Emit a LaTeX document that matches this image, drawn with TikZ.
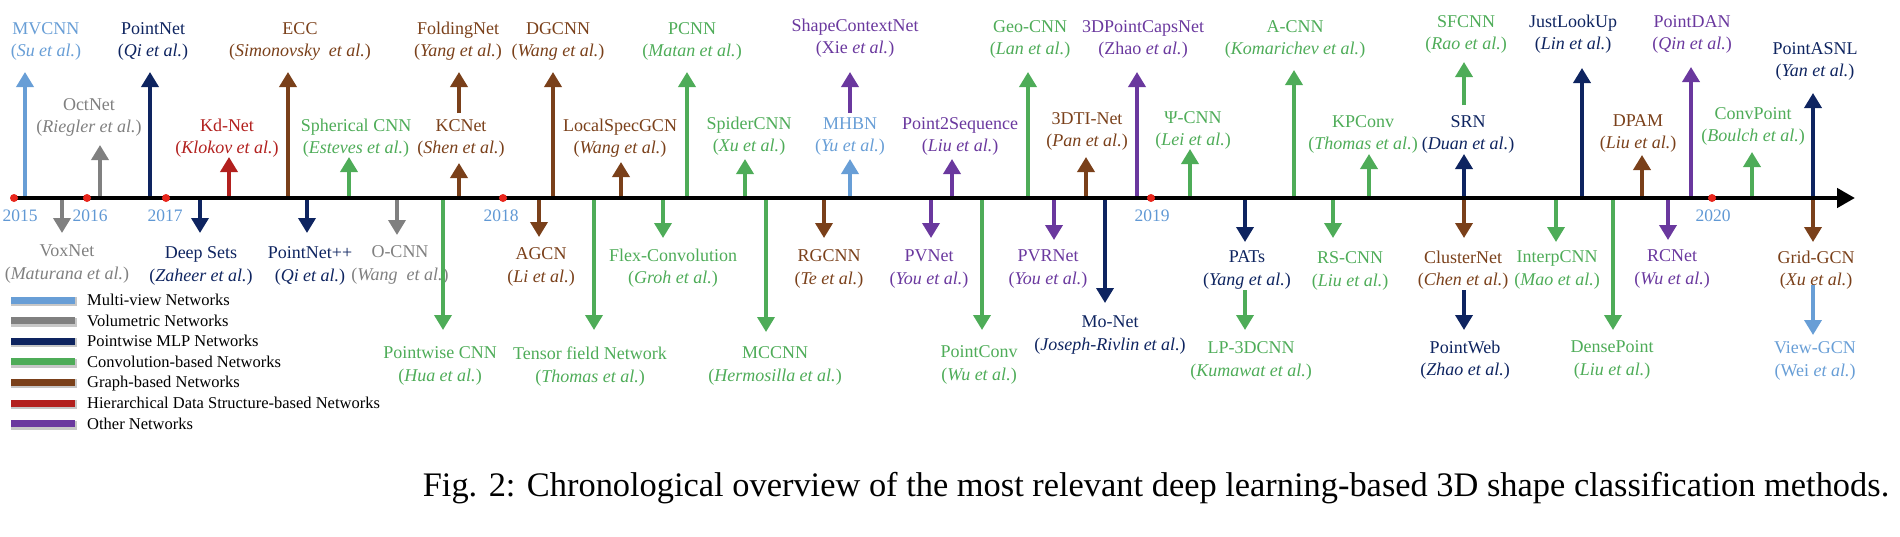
\documentclass[tikz,border=0pt]{standalone}
\usepackage{fontspec}
\setmainfont{Liberation Serif}
\usetikzlibrary{arrows.meta}
\definecolor{mv}{RGB}{104,158,214}
\definecolor{vol}{RGB}{128,128,128}
\definecolor{pw}{RGB}{14,36,96}
\definecolor{cv}{RGB}{78,172,88}
\definecolor{gr}{RGB}{122,64,26}
\definecolor{hier}{RGB}{178,32,30}
\definecolor{oth}{RGB}{106,56,158}
\definecolor{yr}{RGB}{96,152,212}
\definecolor{reddot}{RGB}{232,38,28}
\newcommand\upitem[9]{%
  \coordinate (#1-s) at (#3,#4);
  \coordinate (#1-t) at (#3,#5);
  \draw[arr,#2] (#1-s) -- (#1-t);
  \node[lbl,text=#2,anchor=south] (#1) at (#6,#7+3.6) {#8\\(\textit{#9})};
}
\newcommand\dnitem[9]{%
  \coordinate (#1-s) at (#3,#4);
  \coordinate (#1-t) at (#3,#5);
  \draw[arr,#2] (#1-s) -- (#1-t);
  \node[lbl,text=#2,anchor=north] (#1) at (#6,#7-12.2) {#8\\(\textit{#9})};
}
\begin{document}
\begin{tikzpicture}[x=1pt,y=-1pt,
  arr/.style={line width=3.6pt,-{Triangle[length=15pt,width=17pt]}},
  axisline/.style={line width=4.5pt,black,-{Triangle[length=18pt,width=19pt]}},
  lbl/.style={inner sep=0pt,align=center,font=\fontsize{18}{22.5}\selectfont},
  yrlbl/.style={inner sep=0pt,text=yr,font=\fontsize{17.5}{20}\selectfont},
  dotc/.style={circle,fill=reddot,inner sep=0pt,minimum size=8pt},
  legbar/.style={inner sep=0pt,minimum width=64pt,minimum height=7pt},
  legshadow/.style={inner sep=0pt,minimum width=66pt,minimum height=9pt,fill=black!22},
  legtxt/.style={inner sep=0pt,font=\fontsize{16.5}{20}\selectfont},
  captxt/.style={inner sep=0pt,font=\fontsize{34.4}{40}\selectfont}]
\useasboundingbox (0,0) rectangle (1900,536);

% ---- upward arrows
\upitem{mvcnn}{mv}{25}{198}{72}{46}{57}{MVCNN}{Su et al.}
\upitem{octnet}{vol}{100}{198}{145}{89}{133}{OctNet}{Riegler et al.}
\upitem{pointnet}{pw}{150}{198}{72}{153}{57}{PointNet}{Qi et al.}
\upitem{kdnet}{hier}{229}{198}{157}{227}{154}{Kd-Net}{Klokov et al.}
\upitem{ecc}{gr}{288}{198}{72}{300}{57}{ECC}{Simonovsky\ \ et al.}
\upitem{sphcnn}{cv}{349}{198}{157}{356}{154}{Spherical CNN}{Esteves et al.}
\upitem{kcnet}{gr}{459}{198}{163}{461}{154}{KCNet}{Shen et al.}
\upitem{folding}{gr}{459}{113}{72}{458}{57}{FoldingNet}{Yang et al.}
\upitem{dgcnn}{gr}{553}{198}{72}{558}{57}{DGCNN}{Wang et al.}
\upitem{localspec}{gr}{621}{198}{162}{620}{154}{LocalSpecGCN}{Wang et al.}
\upitem{pcnn}{cv}{687}{198}{72}{692}{57}{PCNN}{Matan et al.}
\upitem{spider}{cv}{745}{198}{159}{749}{152}{SpiderCNN}{Xu et al.}
\upitem{mhbn}{mv}{850}{198}{159}{850}{152}{MHBN}{Yu et al.}
\upitem{shapectx}{oth}{850}{113}{72}{855}{54}{ShapeContextNet}{\upshape Xie \itshape et al.}
\upitem{ptseq}{oth}{952}{198}{159}{960}{152}{Point2Sequence}{Liu et al.}
\upitem{geocnn}{cv}{1028}{198}{72}{1030}{55}{Geo-CNN}{Lan et al.}
\upitem{dti}{gr}{1086}{198}{157}{1087}{147}{3DTI-Net}{Pan et al.}
\upitem{caps}{oth}{1137}{198}{72}{1143}{55}{3DPointCapsNet}{\upshape Zhao \itshape et al.}
\upitem{psicnn}{cv}{1190}{198}{149}{1193}{146}{Ψ-CNN}{Lei et al.}
\upitem{acnn}{cv}{1294}{198}{70}{1295}{55}{A-CNN}{Komarichev et al.}
\upitem{kpconv}{cv}{1369}{198}{154}{1363}{150}{KPConv}{Thomas et al.}
\upitem{srn}{pw}{1464}{198}{154}{1468}{150}{SRN}{Duan et al.}
\upitem{sfcnn}{cv}{1464}{105}{62}{1466}{50}{SFCNN}{Rao et al.}
\upitem{jlu}{pw}{1582}{198}{68}{1573}{50}{JustLookUp}{Lin et al.}
\upitem{dpam}{gr}{1642}{198}{155}{1638}{149}{DPAM}{Liu et al.}
\upitem{pdan}{oth}{1691}{198}{67}{1692}{50}{PointDAN}{Qin et al.}
\upitem{convpt}{cv}{1752}{198}{152}{1753}{142}{ConvPoint}{Boulch et al.}
\upitem{asnl}{pw}{1813}{198}{93}{1815}{77}{PointASNL}{Yan et al.}

% ---- downward arrows
\dnitem{voxnet}{vol}{62}{198}{233}{67}{257}{VoxNet}{Maturana et al.}
\dnitem{deepsets}{pw}{200}{198}{233}{201}{259}{Deep Sets}{Zaheer et al.}
\dnitem{pnpp}{pw}{307}{198}{233}{310}{259}{PointNet++}{Qi et al.}
\dnitem{ocnn}{vol}{397}{198}{235}{400}{258}{O-CNN}{Wang\ \ et al.}
\dnitem{pwcnn}{cv}{443}{198}{330}{440}{359}{Pointwise CNN}{Hua et al.}
\dnitem{agcn}{gr}{539}{198}{237}{541}{260}{AGCN}{Li et al.}
\dnitem{tfn}{cv}{594}{198}{330}{590}{359}{Tensor field Network}{Thomas et al.}
\dnitem{flex}{cv}{663}{198}{238}{673}{261}{Flex-Convolution}{Groh et al.}
\dnitem{mccnn}{cv}{766}{198}{332}{775}{359}{MCCNN}{Hermosilla et al.}
\dnitem{rgcnn}{gr}{824}{198}{238}{829}{262}{RGCNN}{Te et al.}
\dnitem{pvnet}{oth}{931}{198}{238}{929}{262}{PVNet}{You et al.}
\dnitem{pconv}{cv}{982}{198}{330}{979}{358}{PointConv}{Wu et al.}
\dnitem{pvrnet}{oth}{1054}{198}{240}{1048}{262}{PVRNet}{You et al.}
\dnitem{monet}{pw}{1105}{198}{303}{1110}{328}{Mo-Net}{Joseph-Rivlin et al.}
\dnitem{pats}{pw}{1245}{198}{242}{1247}{263}{PATs}{Yang et al.}
\dnitem{lpdcnn}{cv}{1245}{290}{330}{1251}{354}{LP-3DCNN}{Kumawat et al.}
\dnitem{rscnn}{cv}{1333}{198}{238}{1350}{264}{RS-CNN}{Liu et al.}
\dnitem{cluster}{gr}{1464}{198}{238}{1463}{263}{ClusterNet}{Chen et al.}
\dnitem{pweb}{pw}{1464}{290}{330}{1465}{353}{PointWeb}{Zhao et al.}
\dnitem{interp}{cv}{1556}{198}{242}{1557}{263}{InterpCNN}{Mao et al.}
\dnitem{dense}{cv}{1613}{198}{330}{1612}{353}{DensePoint}{Liu et al.}
\dnitem{rcnet}{oth}{1668}{198}{240}{1672}{262}{RCNet}{Wu et al.}
\dnitem{gridgcn}{gr}{1813}{198}{242}{1816}{263}{Grid-GCN}{Xu et al.}
\dnitem{viewgcn}{mv}{1813}{285}{335}{1815}{354}{View-GCN}{\upshape Wei \itshape et al.}

% ---- time axis
\coordinate (ax-s) at (13,198);
\coordinate (ax-e) at (1855,198);
\draw[axisline] (ax-s) -- (ax-e);

% ---- years
\node[dotc] (d2015) at (14,198) {};
\node[dotc] (d2016) at (87,198) {};
\node[dotc] (d2017) at (166,198) {};
\node[dotc] (d2018) at (503,198) {};
\node[dotc] (d2019) at (1151,198) {};
\node[dotc] (d2020) at (1712,198) {};
\node[yrlbl,anchor=base] (y2015) at (20,221.5) {2015};
\node[yrlbl,anchor=base] (y2016) at (90,221.5) {2016};
\node[yrlbl,anchor=base] (y2017) at (165,221.5) {2017};
\node[yrlbl,anchor=base] (y2018) at (501,221.5) {2018};
\node[yrlbl,anchor=base] (y2019) at (1152,221.5) {2019};
\node[yrlbl,anchor=base] (y2020) at (1713,221.5) {2020};

% ---- legend
\foreach \i/\c/\t in {0/mv/Multi-view Networks,1/vol/Volumetric Networks,2/pw/Pointwise MLP Networks,3/cv/Convolution-based Networks,4/gr/Graph-based Networks,5/hier/Hierarchical Data Structure-based Networks,6/oth/Other Networks}{
  \node[legshadow] (ls\i) at (44,301.5+20.6*\i) {};
  \node[legbar,fill=\c] (lb\i) at (43,300+20.6*\i) {};
  \node[legtxt,anchor=base west] (lt\i) at (87,305.5+20.6*\i) {\t};
}

% ---- caption
\node[captxt,anchor=base] (cap) at (1156,496) {Fig. 2: Chronological overview of the most relevant deep learning-based 3D shape classification methods.};
\end{tikzpicture}
\end{document}
